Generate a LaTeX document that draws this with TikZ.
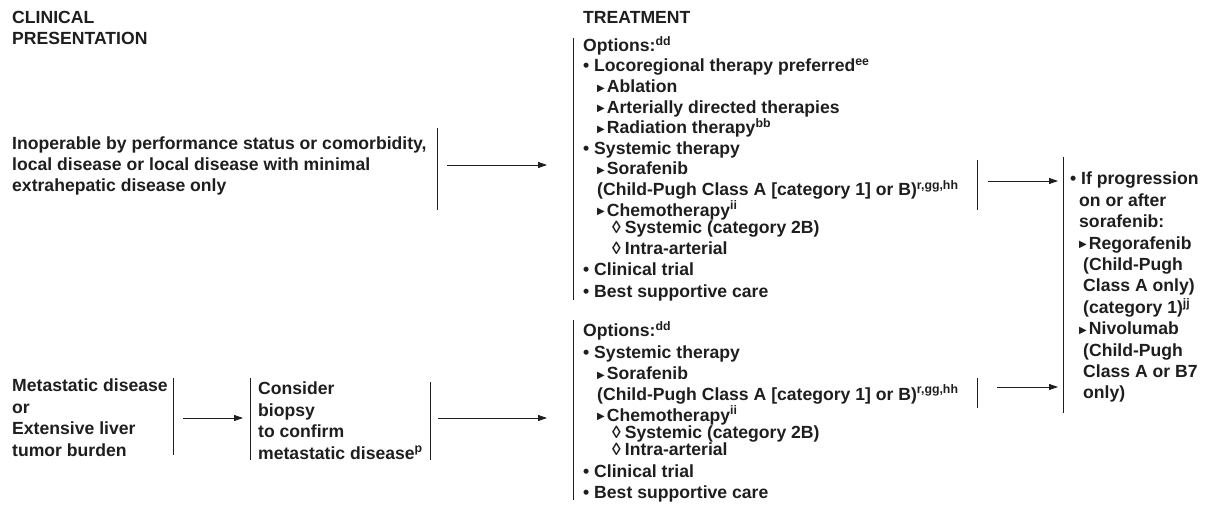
\documentclass[tikz,border=0pt]{standalone}
\usepackage{fontspec}
\setmainfont{Liberation Sans}
\newfontfamily\symf{DejaVu Sans}
\usetikzlibrary{arrows.meta}
\definecolor{ink}{RGB}{30,30,30}
\newcommand{\tri}{\raisebox{1.2pt}{\symf\fontsize{10}{10}\selectfont ▶}\hspace{2pt}}
\newcommand{\loz}{◊\hspace{4pt}}
\tikzset{
  txt/.style={anchor=north west,inner sep=0pt,align=left,text=ink,
    font=\bfseries\fontsize{17.6}{20.6}\selectfont},
  txtb/.style={txt,font=\bfseries\fontsize{17.6}{21.4}\selectfont},
  bar/.style={line width=0.8pt,ink},
  arr/.style={-{Triangle[length=9pt,width=6pt]},line width=0.8pt,ink},
}
\begin{document}
\begin{tikzpicture}[x=1pt,y=-1pt]
  \useasboundingbox (0,0) rectangle (1213,505);
  % headings
  \node[txt] (clin) at (12,11) {CLINICAL\\PRESENTATION};
  \node[txt] (treat) at (583,11) {TREATMENT};
  % clinical presentation
  \node[txt] (inop) at (12,137) {Inoperable by performance status or comorbidity,\\
    local disease or local disease with minimal\\extrahepatic disease only};
  \node[txtb] (meta) at (12,379) {Metastatic disease\\or\\Extensive liver\\tumor burden};
  \node[txtb] (biop) at (258,382) {Consider\\biopsy\\to confirm\\metastatic disease\textsuperscript{p}};
  % treatment options
  \node[txt] (optA) at (583,36) {Options:\textsuperscript{dd}\\
    • Locoregional therapy preferred\textsuperscript{ee}\\
    \hspace*{14pt}\tri Ablation\\
    \hspace*{14pt}\tri Arterially directed therapies\\
    \hspace*{14pt}\tri Radiation therapy\textsuperscript{bb}\\
    • Systemic therapy\\
    \hspace*{14pt}\tri Sorafenib\\
    \hspace*{14pt}(Child-Pugh Class A [category 1] or B)\textsuperscript{r,gg,hh}\\
    \hspace*{14pt}\tri Chemotherapy\textsuperscript{ii}\\[-3pt]
    \hspace*{29pt}\loz Systemic (category 2B)\\
    \hspace*{29pt}\loz Intra-arterial\\[0.5pt]
    • Clinical trial\\[1pt]
    • Best supportive care};
  \node[txtb] (optB) at (583,321.5) {Options:\textsuperscript{dd}\\
    • Systemic therapy\\[-0.5pt]
    \hspace*{14pt}\tri Sorafenib\\[-0.5pt]
    \hspace*{14pt}(Child-Pugh Class A [category 1] or B)\textsuperscript{r,gg,hh}\\[-0.5pt]
    \hspace*{14pt}\tri Chemotherapy\textsuperscript{ii}\\[-4pt]
    \hspace*{29pt}\loz Systemic (category 2B)\\[-4pt]
    \hspace*{29pt}\loz Intra-arterial\\
    • Clinical trial\\
    • Best supportive care};
  \node[txtb] (prog) at (1070,172) {• If progression\\
    \hspace*{9pt}on or after\\
    \hspace*{9pt}sorafenib:\\
    \hspace*{9pt}\tri Regorafenib\\
    \hspace*{13pt}(Child-Pugh\\
    \hspace*{13pt}Class A only)\\
    \hspace*{13pt}(category 1)\textsuperscript{jj}\\
    \hspace*{9pt}\tri Nivolumab\\
    \hspace*{13pt}(Child-Pugh\\
    \hspace*{13pt}Class A or B7\\
    \hspace*{13pt}only)};
  % bars
  \draw[bar] (437,128) -- (437,210);
  \draw[bar] (573,38) -- (573,300);
  \draw[bar] (573,320) -- (573,500);
  \draw[bar] (977,160) -- (977,210);
  \draw[bar] (977,378) -- (977,408);
  \draw[bar] (1063,157) -- (1063,413);
  \draw[bar] (173,378) -- (173,455);
  \draw[bar] (250,378) -- (250,460);
  \draw[bar] (430,382) -- (430,460);
  % arrows
  \coordinate (inopR) at (447,165);
  \coordinate (optAL) at (547,165);
  \coordinate (sorAR) at (988,181);
  \coordinate (progL) at (1058,181);
  \coordinate (sorBR) at (997,387);
  \coordinate (progL2) at (1058,387);
  \coordinate (metaR) at (183,418);
  \coordinate (biopL) at (243,418);
  \coordinate (biopR) at (438,418);
  \coordinate (optBL) at (547,418);
  \draw[arr] (inopR) -- (optAL);
  \draw[arr] (sorAR) -- (progL);
  \draw[arr] (sorBR) -- (progL2);
  \draw[arr] (metaR) -- (biopL);
  \draw[arr] (biopR) -- (optBL);
\end{tikzpicture}
\end{document}
